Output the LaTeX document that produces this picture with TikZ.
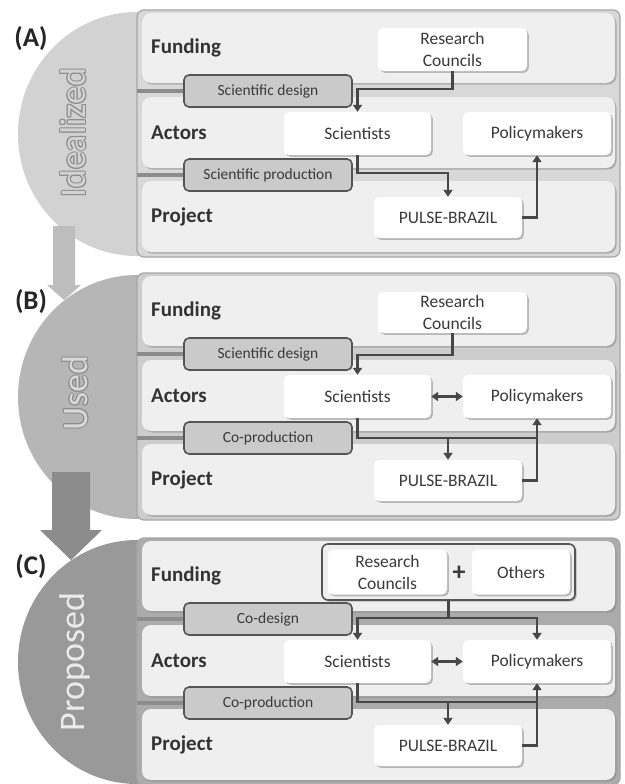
\documentclass[tikz,border=0pt]{standalone}
\usepackage{fontspec}
\setmainfont{Carlito}
\usetikzlibrary{arrows.meta,shadows,calc}
\definecolor{rowfill}{HTML}{EFEFEF}
\definecolor{tabfill}{HTML}{CACACA}
\definecolor{tabline}{HTML}{555555}
\definecolor{conncol}{HTML}{474747}
\definecolor{diskA}{HTML}{D2D2D2}
\definecolor{diskB}{HTML}{B6B6B6}
\definecolor{diskC}{HTML}{999999}
\definecolor{contA}{HTML}{D8D8D8}
\definecolor{contB}{HTML}{CDCDCD}
\definecolor{contC}{HTML}{ABABAB}
\definecolor{txt}{HTML}{3A3A3A}
\definecolor{arrAB}{HTML}{BDBDBD}
\definecolor{arrBC}{HTML}{8C8C8C}
\tikzset{
 rowbox/.style={fill=rowfill, rounded corners=9pt, drop shadow={shadow xshift=1.6pt, shadow yshift=-1.6pt, fill=black!50, opacity=0.5}},
 contbox/.style={rounded corners=7pt, draw=black!35, line width=1.2pt},
 tabbox/.style={draw=tabline, line width=1.6pt, fill=tabfill, rounded corners=5pt, inner sep=0pt, minimum width=168pt, minimum height=32pt, font=\fontsize{15.5}{15.5}\selectfont, text=txt},
 wbox/.style={fill=white, rounded corners=5pt, inner sep=0pt, align=center, font=\fontsize{17.5}{22}\selectfont, text=txt, drop shadow={shadow xshift=1.8pt, shadow yshift=-1.8pt, fill=black!50, opacity=0.5}},
 rowlabel/.style={anchor=west, inner sep=0pt, font=\fontsize{21}{21}\selectfont\bfseries, text=black!80},
 conn/.style={draw=conncol, line width=2.6pt},
 arrowtip/.style={-{Triangle[width=9pt,length=7pt]}},
 dblarrow/.style={{Triangle[width=9pt,length=7pt]}-{Triangle[width=9pt,length=7pt]}},
 tabconn/.style={draw=black!45, line width=4pt},
 vlabel/.style={rotate=90, inner sep=0pt, font=\fontsize{36}{36}\selectfont},
}
\newcommand\panelbase[7]{%
\begin{scope}[shift={(0,#2)}]
 \fill[#3] (137,134) ellipse [x radius=119, y radius=122];
 \path[contbox, fill=#4] (137,10) rectangle (620,257);
 \path[rowbox] (142,13) rectangle (615,83);
 \path[rowbox] (142,97) rectangle (615,168);
 \path[rowbox] (142,181) rectangle (615,252);
 \node[font=\fontsize{27}{27}\selectfont\bfseries, text=black!85] (lab#1) at (31,39) {(#7)};
 \node[rowlabel] (fund#1) at (151,48) {Funding};
 \node[rowlabel] (act#1) at (151,133) {Actors};
 \node[rowlabel] (proj#1) at (151,217) {Project};
 \coordinate (ea#1) at (137,91);
 \coordinate (eb#1) at (137,175);
 \node[tabbox] (ta#1) at (268,91) {#5};
 \node[tabbox] (tb#1) at (268,175) {#6};
 \draw[tabconn] (ea#1) -- (ta#1.west);
 \draw[tabconn] (eb#1) -- (tb#1.west);
 \node[wbox, minimum width=147pt, minimum height=43pt] (sci#1) at (357.5,133.5) {Scientists};
 \node[wbox, minimum width=148pt, minimum height=43pt] (pol#1) at (537,133.5) {Policymakers};
 \node[wbox, minimum width=148pt, minimum height=41pt] (pb#1) at (448,217.5) {PULSE-BRAZIL};
\end{scope}}
\newcommand\outlined[5]{%
 \foreach \dx/\dy [count=\k] in {-1/0,1/0,0/-1,0/1,-0.7/-0.7,0.7/0.7,-0.7/0.7,0.7/-0.7}
   {\node[vlabel, text=#4] (#1o\k) at ($(#2)+(\dx,\dy)$) {#3};}
 \node[vlabel, text=#5] (#1) at (#2) {#3};}
\begin{document}
\begin{tikzpicture}[x=1pt,y=-1pt]
\fill[white] (0,0) rectangle (624,784);
\useasboundingbox (0,0) rectangle (624,784);
% ---------- panel A
\panelbase{a}{0}{diskA}{contA}{Scientific design}{Scientific production}{A}
\begin{scope}[shift={(0,0)}]
 \node[wbox, minimum width=149pt, minimum height=43pt] (rca) at (452.5,49.5) {Research\\Councils};
 \coordinate (ja) at (357.5,89);
 \coordinate (ka) at (448,173);
 \draw[conn, arrowtip] (rca.south) |- (ja) -- (scia.north);
 \draw[conn, arrowtip] (scia.south) |- (ka) -- (pba.north);
 \draw[conn, arrowtip] (pba.east) -| (pola.south);
\end{scope}
% ---------- panel B
\panelbase{b}{263}{diskB}{contB}{Scientific design}{Co-production}{B}
\begin{scope}[shift={(0,263)}]
 \node[wbox, minimum width=149pt, minimum height=41pt] (rcb) at (452.5,49.5) {Research\\Councils};
 \coordinate (jb) at (357.5,92);
 \coordinate (kb) at (537,175);
 \coordinate (mb) at (448,175);
 \draw[conn, arrowtip] (rcb.south) |- (jb) -- (scib.north);
 \draw[conn, dblarrow] (scib.east) -- (polb.west);
 \draw[conn] (scib.south) |- (kb);
 \draw[conn, arrowtip] (mb) -- (pbb.north);
 \draw[conn, arrowtip] (pbb.east) -| (polb.south);
\end{scope}
% ---------- panel C
\panelbase{c}{528}{diskC}{contC}{Co-design}{Co-production}{C}
\begin{scope}[shift={(0,528)}]
 \node[fill=rowfill, draw=tabline, line width=1.6pt, rounded corners=6pt, minimum width=253pt, minimum height=56pt, inner sep=0pt, drop shadow={shadow xshift=1.6pt, shadow yshift=-1.6pt, fill=black!50, opacity=0.5}] (grpc) at (448.5,44) {};
 \node[wbox, minimum width=119pt, minimum height=45pt] (rcc) at (387.5,44) {Research\\Councils};
 \node[font=\fontsize{26}{26}\selectfont\bfseries, text=txt, inner sep=0pt] (plusc) at (459,45) {+};
 \node[wbox, minimum width=98pt, minimum height=45pt] (othc) at (521,44) {Others};
 \coordinate (jc) at (448.5,90);
 \coordinate (kc) at (537,174);
 \coordinate (mc) at (448,174);
 \draw[conn] (grpc.south) -- (jc);
 \draw[conn, arrowtip] (jc) -| (scic.north);
 \draw[conn, arrowtip] (jc) -| (polc.north);
 \draw[conn, dblarrow] (scic.east) -- (polc.west);
 \draw[conn] (scic.south) |- (kc);
 \draw[conn, arrowtip] (mc) -- (pbc.north);
 \draw[conn, arrowtip] (pbc.east) -| (polc.south);
\end{scope}
% ---------- rotated panel names
\outlined{ida}{73,133}{Idealized}{black!45}{diskA}
\outlined{useb}{75,393}{Used}{black!45}{black!15}
\node[vlabel, text=black!8] (propc) at (75,662) {Proposed};
% ---------- block arrows between panels
\fill[arrAB] (53,226) -- (75,226) -- (75,285) -- (81,285) -- (64,300) -- (47,285) -- (53,285) -- cycle;
\fill[arrBC] (52,472) -- (90,472) -- (90,530) -- (102,530) -- (71,560) -- (40,530) -- (52,530) -- cycle;
\end{tikzpicture}
\end{document}
